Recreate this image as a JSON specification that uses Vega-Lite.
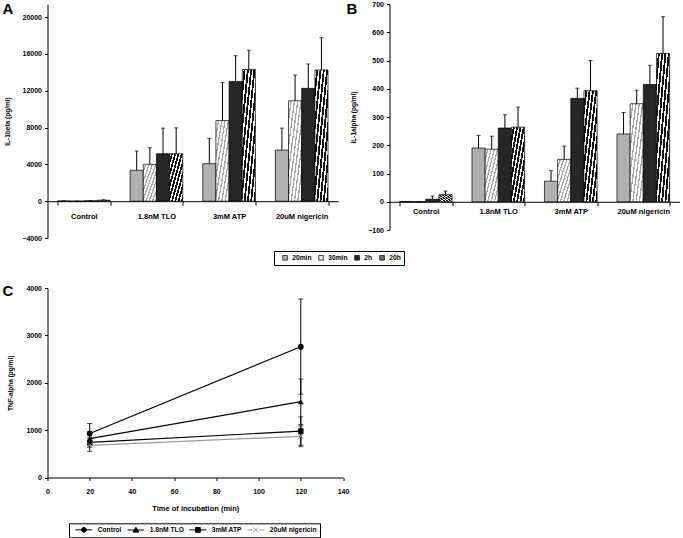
{
  "$schema": "https://vega.github.io/schema/vega-lite/v6.json",
  "padding": {"left": 2.5, "top": 0, "right": 0, "bottom": 26},
  "background": "white",
  "config": {
    "font": "Liberation Sans",
    "view": {"stroke": null},
    "axis": {
      "labelFont": "Liberation Sans", "labelFontSize": 7, "labelFontWeight": "bold", "labelColor": "black",
      "titleFont": "Liberation Sans", "titleFontSize": 6.5, "titleFontWeight": "bold", "titleColor": "black",
      "domainColor": "black", "tickColor": "black", "grid": false, "tickSize": 3, "domainWidth": 1, "tickWidth": 1, "labelPadding": 3,
      "labelOverlap": false
    },
    "legend": {"labelFont": "Liberation Sans", "labelFontSize": 6.7, "labelFontWeight": "bold", "labelColor": "black"},
    "title": {"font": "Liberation Sans", "fontSize": 15, "fontWeight": "bold", "anchor": "start", "frame": "group", "color": "black"}
  },
  "datasets": {
    "il1b": [
      {"treatment": "Control", "time": "20min", "value": 30, "upper": 30},
      {"treatment": "Control", "time": "30min", "value": 0, "upper": 0},
      {"treatment": "Control", "time": "2h", "value": 40, "upper": 60},
      {"treatment": "Control", "time": "20h", "value": 100, "upper": 150},
      {"treatment": "1.8nM TLO", "time": "20min", "value": 3350, "upper": 5450},
      {"treatment": "1.8nM TLO", "time": "30min", "value": 4000, "upper": 5800},
      {"treatment": "1.8nM TLO", "time": "2h", "value": 5150, "upper": 7930},
      {"treatment": "1.8nM TLO", "time": "20h", "value": 5150, "upper": 7960},
      {"treatment": "3mM ATP", "time": "20min", "value": 4070, "upper": 6800},
      {"treatment": "3mM ATP", "time": "30min", "value": 8750, "upper": 12900},
      {"treatment": "3mM ATP", "time": "2h", "value": 13000, "upper": 15800},
      {"treatment": "3mM ATP", "time": "20h", "value": 14300, "upper": 16400},
      {"treatment": "20uM nigericin", "time": "20min", "value": 5550, "upper": 7930},
      {"treatment": "20uM nigericin", "time": "30min", "value": 10900, "upper": 13700},
      {"treatment": "20uM nigericin", "time": "2h", "value": 12250, "upper": 14900},
      {"treatment": "20uM nigericin", "time": "20h", "value": 14250, "upper": 17750}
    ],
    "il1a": [
      {"treatment": "Control", "time": "20min", "value": 1, "upper": 1},
      {"treatment": "Control", "time": "30min", "value": 0, "upper": 0},
      {"treatment": "Control", "time": "2h", "value": 9, "upper": 20},
      {"treatment": "Control", "time": "20h", "value": 25, "upper": 38},
      {"treatment": "1.8nM TLO", "time": "20min", "value": 190, "upper": 235},
      {"treatment": "1.8nM TLO", "time": "30min", "value": 186, "upper": 232},
      {"treatment": "1.8nM TLO", "time": "2h", "value": 261, "upper": 308},
      {"treatment": "1.8nM TLO", "time": "20h", "value": 264, "upper": 335},
      {"treatment": "3mM ATP", "time": "20min", "value": 73, "upper": 110},
      {"treatment": "3mM ATP", "time": "30min", "value": 150, "upper": 197},
      {"treatment": "3mM ATP", "time": "2h", "value": 366, "upper": 402},
      {"treatment": "3mM ATP", "time": "20h", "value": 393, "upper": 500},
      {"treatment": "20uM nigericin", "time": "20min", "value": 240, "upper": 316},
      {"treatment": "20uM nigericin", "time": "30min", "value": 347, "upper": 395},
      {"treatment": "20uM nigericin", "time": "2h", "value": 415, "upper": 483},
      {"treatment": "20uM nigericin", "time": "20h", "value": 525, "upper": 655}
    ],
    "tnf": [
      {"treatment": "Control", "time": 20, "value": 930, "lower": 720, "upper": 1140},
      {"treatment": "Control", "time": 120, "value": 2760, "lower": 1760, "upper": 3770},
      {"treatment": "1.8nM TLO", "time": 20, "value": 820, "lower": 680, "upper": 960},
      {"treatment": "1.8nM TLO", "time": 120, "value": 1600, "lower": 1120, "upper": 2080},
      {"treatment": "3mM ATP", "time": 20, "value": 740, "lower": 640, "upper": 840},
      {"treatment": "3mM ATP", "time": 120, "value": 980, "lower": 680, "upper": 1280},
      {"treatment": "20uM nigericin", "time": 20, "value": 680, "lower": 550, "upper": 810},
      {"treatment": "20uM nigericin", "time": 120, "value": 870, "lower": 650, "upper": 1090}
    ]
  },
  "spacing": 42,
  "vconcat": [
    {
      "spacing": 8,
      "hconcat": [
        {
          "width": 290.5, "height": 234,
          "title": {"text": "A", "dx": -45, "offset": -13},
          "data": {"name": "il1b"},
          "encoding": {
            "x": {"field": "treatment", "type": "nominal", "sort": ["Control", "1.8nM TLO", "3mM ATP", "20uM nigericin"],
                  "scale": {"paddingInner": 0.275, "paddingOuter": 0.1375},
                  "axis": {"title": null, "labelAngle": 0, "tickBand": "extent", "offset": -36.8, "labelPadding": 7, "labelFontSize": 7.5, "tickSize": 4}},
            "xOffset": {"field": "time", "type": "nominal", "sort": ["20min", "30min", "2h", "20h"], "scale": {"domain": ["20min", "30min", "2h", "20h"], "paddingInner": 0, "paddingOuter": 0}}
          },
          "layer": [
            {
              "mark": {"type": "bar", "stroke": "black", "strokeWidth": 0.7},
              "encoding": {
                "y": {"field": "value", "type": "quantitative", "scale": {"domain": [-4000, 21412], "nice": false, "zero": false},
                      "axis": {"values": [-4000, 0, 4000, 8000, 12000, 16000, 20000], "format": "d", "title": "IL-1beta (pg/ml)", "titlePadding": 11.25, "labelOverlap": false}},
                "fill": {
                  "field": "time", "type": "nominal", "sort": ["20min", "30min", "2h", "20h"],
                  "scale": {"domain": ["20min", "30min", "2h", "20h"], "range": ["#b0b0b0", "#e2e2e2", "#262626", "#6f6f6f"]},
                  "condition": [
                    {"test": "datum.time === '30min'", "value": {"gradient": "linear", "x1": 0, "y1": 0, "x2": 1, "y2": 1, "stops": [
                      {"offset": 0, "color": "white"}, {"offset": 0.075, "color": "white"}, {"offset": 0.075, "color": "#a8a8a8"}, {"offset": 0.125, "color": "#a8a8a8"},
                      {"offset": 0.125, "color": "white"}, {"offset": 0.2, "color": "white"}, {"offset": 0.2, "color": "#a8a8a8"}, {"offset": 0.25, "color": "#a8a8a8"},
                      {"offset": 0.25, "color": "white"}, {"offset": 0.325, "color": "white"}, {"offset": 0.325, "color": "#a8a8a8"}, {"offset": 0.375, "color": "#a8a8a8"},
                      {"offset": 0.375, "color": "white"}, {"offset": 0.45, "color": "white"}, {"offset": 0.45, "color": "#a8a8a8"}, {"offset": 0.5, "color": "#a8a8a8"},
                      {"offset": 0.5, "color": "white"}, {"offset": 0.575, "color": "white"}, {"offset": 0.575, "color": "#a8a8a8"}, {"offset": 0.625, "color": "#a8a8a8"},
                      {"offset": 0.625, "color": "white"}, {"offset": 0.7, "color": "white"}, {"offset": 0.7, "color": "#a8a8a8"}, {"offset": 0.75, "color": "#a8a8a8"},
                      {"offset": 0.75, "color": "white"}, {"offset": 0.825, "color": "white"}, {"offset": 0.825, "color": "#a8a8a8"}, {"offset": 0.875, "color": "#a8a8a8"},
                      {"offset": 0.875, "color": "white"}, {"offset": 0.95, "color": "white"}, {"offset": 0.95, "color": "#a8a8a8"}, {"offset": 1, "color": "#a8a8a8"}]}},
                    {"test": "datum.time === '20h'", "value": {"gradient": "linear", "x1": 0, "y1": 0, "x2": 1, "y2": 1, "stops": [
                      {"offset": 0, "color": "white"}, {"offset": 0.055, "color": "white"}, {"offset": 0.055, "color": "#111111"}, {"offset": 0.125, "color": "#111111"},
                      {"offset": 0.125, "color": "white"}, {"offset": 0.18, "color": "white"}, {"offset": 0.18, "color": "#111111"}, {"offset": 0.25, "color": "#111111"},
                      {"offset": 0.25, "color": "white"}, {"offset": 0.305, "color": "white"}, {"offset": 0.305, "color": "#111111"}, {"offset": 0.375, "color": "#111111"},
                      {"offset": 0.375, "color": "white"}, {"offset": 0.43, "color": "white"}, {"offset": 0.43, "color": "#111111"}, {"offset": 0.5, "color": "#111111"},
                      {"offset": 0.5, "color": "white"}, {"offset": 0.555, "color": "white"}, {"offset": 0.555, "color": "#111111"}, {"offset": 0.625, "color": "#111111"},
                      {"offset": 0.625, "color": "white"}, {"offset": 0.68, "color": "white"}, {"offset": 0.68, "color": "#111111"}, {"offset": 0.75, "color": "#111111"},
                      {"offset": 0.75, "color": "white"}, {"offset": 0.805, "color": "white"}, {"offset": 0.805, "color": "#111111"}, {"offset": 0.875, "color": "#111111"},
                      {"offset": 0.875, "color": "white"}, {"offset": 0.93, "color": "white"}, {"offset": 0.93, "color": "#111111"}, {"offset": 1, "color": "#111111"}]}}
                  ],
                  "legend": {
                    "orient": "none", "legendX": 226.5, "legendY": 247, "direction": "horizontal", "title": null,
                    "strokeColor": "black", "padding": 3, "symbolType": "square", "symbolSize": 22, "symbolOffset": 4.7,
                    "symbolStrokeColor": "black", "symbolStrokeWidth": 0.7, "columnPadding": 1, "labelOffset": 3.8
                  }
                }
              }
            },
            {
              "mark": {"type": "rule", "color": "black", "strokeWidth": 1},
              "encoding": {
                "y": {"field": "value", "type": "quantitative", "axis": {"values": [-4000, 0, 4000, 8000, 12000, 16000, 20000], "format": "d", "title": "IL-1beta (pg/ml)", "titlePadding": 11.25, "labelOverlap": false}},
                "y2": {"field": "upper"}
              }
            },
            {
              "mark": {"type": "tick", "orient": "horizontal", "color": "black", "size": 4, "thickness": 1},
              "encoding": {"y": {"field": "upper", "type": "quantitative", "axis": {"values": [-4000, 0, 4000, 8000, 12000, 16000, 20000], "format": "d", "title": "IL-1beta (pg/ml)", "titlePadding": 11.25, "labelOverlap": false}}}
            }
          ]
        },
        {
          "width": 290, "height": 226,
          "title": {"text": "B", "dx": -43, "offset": -17.1},
          "data": {"name": "il1a"},
          "encoding": {
            "x": {"field": "treatment", "type": "nominal", "sort": ["Control", "1.8nM TLO", "3mM ATP", "20uM nigericin"],
                  "scale": {"paddingInner": 0.275, "paddingOuter": 0.1375},
                  "axis": {"title": null, "labelAngle": 0, "tickBand": "extent", "offset": -28.25, "labelPadding": 1.5, "labelFontSize": 7.5, "tickSize": 4}},
            "xOffset": {"field": "time", "type": "nominal", "sort": ["20min", "30min", "2h", "20h"], "scale": {"domain": ["20min", "30min", "2h", "20h"], "paddingInner": 0, "paddingOuter": 0}}
          },
          "layer": [
            {
              "mark": {"type": "bar", "stroke": "black", "strokeWidth": 0.7},
              "encoding": {
                "y": {"field": "value", "type": "quantitative", "scale": {"domain": [-100, 700], "nice": false},
                      "axis": {"values": [-100, 0, 100, 200, 300, 400, 500, 600, 700], "format": "d", "title": "IL-1alpha (pg/ml)", "titlePadding": 11, "labelOverlap": false}},
                "fill": {
                  "field": "time", "type": "nominal", "sort": ["20min", "30min", "2h", "20h"],
                  "scale": {"domain": ["20min", "30min", "2h", "20h"], "range": ["#b0b0b0", "#e2e2e2", "#262626", "#6f6f6f"]},
                  "condition": [
                    {"test": "datum.time === '30min'", "value": {"gradient": "linear", "x1": 0, "y1": 0, "x2": 1, "y2": 1, "stops": [
                      {"offset": 0, "color": "white"}, {"offset": 0.075, "color": "white"}, {"offset": 0.075, "color": "#a8a8a8"}, {"offset": 0.125, "color": "#a8a8a8"},
                      {"offset": 0.125, "color": "white"}, {"offset": 0.2, "color": "white"}, {"offset": 0.2, "color": "#a8a8a8"}, {"offset": 0.25, "color": "#a8a8a8"},
                      {"offset": 0.25, "color": "white"}, {"offset": 0.325, "color": "white"}, {"offset": 0.325, "color": "#a8a8a8"}, {"offset": 0.375, "color": "#a8a8a8"},
                      {"offset": 0.375, "color": "white"}, {"offset": 0.45, "color": "white"}, {"offset": 0.45, "color": "#a8a8a8"}, {"offset": 0.5, "color": "#a8a8a8"},
                      {"offset": 0.5, "color": "white"}, {"offset": 0.575, "color": "white"}, {"offset": 0.575, "color": "#a8a8a8"}, {"offset": 0.625, "color": "#a8a8a8"},
                      {"offset": 0.625, "color": "white"}, {"offset": 0.7, "color": "white"}, {"offset": 0.7, "color": "#a8a8a8"}, {"offset": 0.75, "color": "#a8a8a8"},
                      {"offset": 0.75, "color": "white"}, {"offset": 0.825, "color": "white"}, {"offset": 0.825, "color": "#a8a8a8"}, {"offset": 0.875, "color": "#a8a8a8"},
                      {"offset": 0.875, "color": "white"}, {"offset": 0.95, "color": "white"}, {"offset": 0.95, "color": "#a8a8a8"}, {"offset": 1, "color": "#a8a8a8"}]}},
                    {"test": "datum.time === '20h'", "value": {"gradient": "linear", "x1": 0, "y1": 0, "x2": 1, "y2": 1, "stops": [
                      {"offset": 0, "color": "white"}, {"offset": 0.055, "color": "white"}, {"offset": 0.055, "color": "#111111"}, {"offset": 0.125, "color": "#111111"},
                      {"offset": 0.125, "color": "white"}, {"offset": 0.18, "color": "white"}, {"offset": 0.18, "color": "#111111"}, {"offset": 0.25, "color": "#111111"},
                      {"offset": 0.25, "color": "white"}, {"offset": 0.305, "color": "white"}, {"offset": 0.305, "color": "#111111"}, {"offset": 0.375, "color": "#111111"},
                      {"offset": 0.375, "color": "white"}, {"offset": 0.43, "color": "white"}, {"offset": 0.43, "color": "#111111"}, {"offset": 0.5, "color": "#111111"},
                      {"offset": 0.5, "color": "white"}, {"offset": 0.555, "color": "white"}, {"offset": 0.555, "color": "#111111"}, {"offset": 0.625, "color": "#111111"},
                      {"offset": 0.625, "color": "white"}, {"offset": 0.68, "color": "white"}, {"offset": 0.68, "color": "#111111"}, {"offset": 0.75, "color": "#111111"},
                      {"offset": 0.75, "color": "white"}, {"offset": 0.805, "color": "white"}, {"offset": 0.805, "color": "#111111"}, {"offset": 0.875, "color": "#111111"},
                      {"offset": 0.875, "color": "white"}, {"offset": 0.93, "color": "white"}, {"offset": 0.93, "color": "#111111"}, {"offset": 1, "color": "#111111"}]}}
                  ]
                }
              }
            },
            {
              "mark": {"type": "rule", "color": "black", "strokeWidth": 1},
              "encoding": {
                "y": {"field": "value", "type": "quantitative", "axis": {"values": [-100, 0, 100, 200, 300, 400, 500, 600, 700], "format": "d", "title": "IL-1alpha (pg/ml)", "titlePadding": 11, "labelOverlap": false}},
                "y2": {"field": "upper"}
              }
            },
            {
              "mark": {"type": "tick", "orient": "horizontal", "color": "black", "size": 4, "thickness": 1},
              "encoding": {"y": {"field": "upper", "type": "quantitative", "axis": {"values": [-100, 0, 100, 200, 300, 400, 500, 600, 700], "format": "d", "title": "IL-1alpha (pg/ml)", "titlePadding": 11, "labelOverlap": false}}}
            }
          ]
        }
      ]
    },
    {
      "width": 295.5, "height": 189.5,
      "title": {"text": "C", "dx": -45, "offset": -14.5},
      "data": {"name": "tnf"},
      "encoding": {
        "x": {"field": "time", "type": "quantitative", "scale": {"domain": [0, 140], "nice": false},
              "axis": {"values": [0, 20, 40, 60, 80, 100, 120, 140], "title": "Time of incubation (min)", "titleFontSize": 7.5, "labelPadding": 7, "titlePadding": 9.5, "labelOverlap": false, "labelFlush": false}}
      },
      "layer": [
        {
          "mark": {"type": "rule", "color": "black", "strokeWidth": 1},
          "encoding": {
            "y": {"field": "lower", "type": "quantitative", "scale": {"domain": [0, 4000], "nice": false},
                  "axis": {"values": [0, 1000, 2000, 3000, 4000], "format": "d", "title": "TNF-alpha (pg/ml)", "titlePadding": 12.6, "labelOverlap": false}},
            "y2": {"field": "upper"}
          }
        },
        {
          "mark": {"type": "tick", "orient": "horizontal", "color": "black", "size": 5, "thickness": 1},
          "encoding": {"y": {"field": "lower", "type": "quantitative", "axis": {"values": [0, 1000, 2000, 3000, 4000], "format": "d", "title": "TNF-alpha (pg/ml)", "titlePadding": 12.6, "labelOverlap": false}}}
        },
        {
          "mark": {"type": "tick", "orient": "horizontal", "color": "black", "size": 5, "thickness": 1},
          "encoding": {"y": {"field": "upper", "type": "quantitative", "axis": {"values": [0, 1000, 2000, 3000, 4000], "format": "d", "title": "TNF-alpha (pg/ml)", "titlePadding": 12.6, "labelOverlap": false}}}
        },
        {
          "mark": {"type": "line", "strokeWidth": 1.2},
          "encoding": {
            "y": {"field": "value", "type": "quantitative", "axis": {"values": [0, 1000, 2000, 3000, 4000], "format": "d", "title": "TNF-alpha (pg/ml)", "titlePadding": 12.6, "labelOverlap": false}},
            "stroke": {"field": "treatment", "type": "nominal", "title": "treatment", "scale": {"domain": ["Control", "1.8nM TLO", "3mM ATP", "20uM nigericin"], "range": ["black", "black", "black", "#9a9a9a"]}}
          }
        },
        {
          "transform": [{"filter": "datum.treatment === 'Control'"}],
          "mark": {"type": "point", "shape": "circle", "filled": true, "color": "black", "size": 34, "opacity": 1},
          "encoding": {"y": {"field": "value", "type": "quantitative", "axis": {"values": [0, 1000, 2000, 3000, 4000], "format": "d", "title": "TNF-alpha (pg/ml)", "titlePadding": 12.6, "labelOverlap": false}}}
        },
        {
          "transform": [{"filter": "datum.treatment === '1.8nM TLO'"}],
          "mark": {"type": "point", "shape": "triangle-up", "filled": true, "color": "black", "size": 34, "opacity": 1},
          "encoding": {"y": {"field": "value", "type": "quantitative", "axis": {"values": [0, 1000, 2000, 3000, 4000], "format": "d", "title": "TNF-alpha (pg/ml)", "titlePadding": 12.6, "labelOverlap": false}}}
        },
        {
          "transform": [{"filter": "datum.treatment === '3mM ATP'"}],
          "mark": {"type": "point", "shape": "square", "filled": true, "color": "black", "size": 30, "opacity": 1},
          "encoding": {"y": {"field": "value", "type": "quantitative", "axis": {"values": [0, 1000, 2000, 3000, 4000], "format": "d", "title": "TNF-alpha (pg/ml)", "titlePadding": 12.6, "labelOverlap": false}}}
        },
        {
          "transform": [{"filter": "datum.treatment === '20uM nigericin'"}],
          "mark": {"type": "point", "shape": "M-1,-1L1,1M-1,1L1,-1", "filled": false, "color": "#8a8a8a", "size": 30, "opacity": 1, "strokeWidth": 1},
          "encoding": {"y": {"field": "value", "type": "quantitative", "axis": {"values": [0, 1000, 2000, 3000, 4000], "format": "d", "title": "TNF-alpha (pg/ml)", "titlePadding": 12.6, "labelOverlap": false}}}
        },
        {
          "mark": {"type": "point", "filled": true, "size": 0, "opacity": 1, "strokeWidth": 1},
          "encoding": {
            "y": {"field": "value", "type": "quantitative", "axis": {"values": [0, 1000, 2000, 3000, 4000], "format": "d", "title": "TNF-alpha (pg/ml)", "titlePadding": 12.6, "labelOverlap": false}},
            "stroke": {"field": "treatment", "type": "nominal", "title": "treatment"},
            "shape": {"field": "treatment", "type": "nominal", "title": "treatment",
              "scale": {"domain": ["Control", "1.8nM TLO", "3mM ATP", "20uM nigericin"], "range": [
                "M-2.8,0H2.8M-0.8,0A0.8,0.8,0,1,0,0.8,0A0.8,0.8,0,1,0,-0.8,0Z",
                "M-2.8,0H2.8M0,-0.9L0.95,0.7L-0.95,0.7Z",
                "M-2.8,0H2.8M-0.8,-0.8H0.8V0.8H-0.8Z",
                "M-2.8,0H-1.2M1.2,0H2.8M-0.8,-0.8L0.8,0.8M-0.8,0.8L0.8,-0.8"]}},
            "color": {
              "field": "treatment", "type": "nominal", "title": "treatment",
              "scale": {"domain": ["Control", "1.8nM TLO", "3mM ATP", "20uM nigericin"], "range": ["black", "black", "black", "#ffffff"]},
              "legend": {
                "orient": "none", "legendX": 21.5, "legendY": 519.3, "direction": "horizontal", "title": null,
                "strokeColor": "black", "padding": 3, "symbolSize": 36, "symbolOffset": 8.4, "labelOffset": 10.3, "columnPadding": 2,
                "symbolStrokeWidth": 1
              }
            }
          }
        }
      ]
    }
  ]
}
